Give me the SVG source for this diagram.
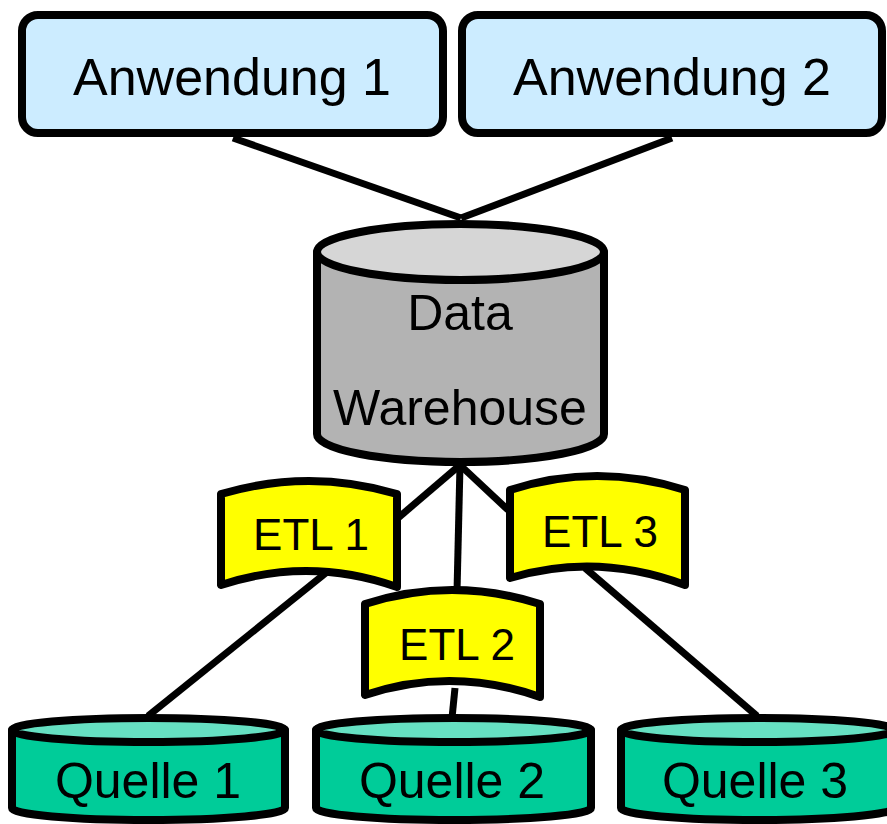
<svg xmlns="http://www.w3.org/2000/svg" width="887" height="824" viewBox="0 0 887 824">
<style>
.ln{stroke:#000;stroke-width:7;fill:none;stroke-linecap:butt}
.sh{stroke:#000;stroke-width:8;stroke-linejoin:round}
.t{font-family:"Liberation Sans",Arial,sans-serif;fill:#000;text-anchor:middle}
.app{fill:#CCECFF}
.dws{fill:#B3B3B3}
.dwt{fill:#D6D6D6}
.etl{fill:#FFFF00}
.qs{fill:#00CC99}
.qt{fill:#66E0C2}
</style>
<g id="connectors">
<line class="ln" x1="233" y1="138" x2="461" y2="218"/>
<line class="ln" x1="672" y1="138" x2="461" y2="218"/>
<line class="ln" x1="460" y1="465" x2="398" y2="518"/>
<line class="ln" x1="460" y1="465" x2="457" y2="592"/>
<line class="ln" x1="460" y1="465" x2="508" y2="510"/>
<line class="ln" x1="327" y1="572" x2="148" y2="716"/>
<line class="ln" x1="455" y1="688" x2="452" y2="718"/>
<line class="ln" x1="585" y1="568" x2="757" y2="716"/>
</g>
<g id="anwendung1">
<rect class="sh app" x="22" y="15" width="421" height="118" rx="16"/>
<text class="t" x="232" y="95" font-size="52">Anwendung 1</text>
</g>
<g id="anwendung2">
<rect class="sh app" x="462" y="15" width="420" height="118" rx="16"/>
<text class="t" x="672" y="95" font-size="52">Anwendung 2</text>
</g>
<g id="datawarehouse">
<path class="sh dws" d="M317,252 L317,434 A143.5,28 0 0 0 604,434 L604,252 Z"/>
<ellipse class="sh dwt" cx="460.5" cy="252" rx="143.5" ry="28"/>
<text class="t" x="460" y="330" font-size="50">Data</text>
<text class="t" x="460" y="425" font-size="50">Warehouse</text>
</g>
<g id="etl1">
<path class="sh etl" d="M221,494 Q309,468 397,494 L397,587 Q309,556 221,585 Z"/>
<text class="t" x="311" y="550" font-size="44">ETL 1</text>
</g>
<g id="etl3">
<path class="sh etl" d="M510,490 Q597,462 685,490 L685,585 Q597,552 510,578 Z"/>
<text class="t" x="600" y="547" font-size="44">ETL 3</text>
</g>
<g id="etl2">
<path class="sh etl" d="M365,604 Q452,576 540,604 L540,697 Q452,666 365,695 Z"/>
<text class="t" x="457" y="660" font-size="44">ETL 2</text>
</g>
<g id="quelle1">
<path class="sh qs" d="M12,730 L12,808 A136.5,12 0 0 0 285,808 L285,730 Z"/>
<ellipse class="sh qt" cx="148.5" cy="730" rx="136.5" ry="12"/>
<text class="t" x="148" y="798" font-size="50">Quelle 1</text>
</g>
<g id="quelle2">
<path class="sh qs" d="M316,730 L316,808 A137.5,12 0 0 0 591,808 L591,730 Z"/>
<ellipse class="sh qt" cx="453.5" cy="730" rx="137.5" ry="12"/>
<text class="t" x="452" y="798" font-size="50">Quelle 2</text>
</g>
<g id="quelle3">
<path class="sh qs" d="M621,730 L621,808 A136.5,12 0 0 0 894,808 L894,730 Z"/>
<ellipse class="sh qt" cx="757.5" cy="730" rx="136.5" ry="12"/>
<text class="t" x="755" y="798" font-size="50">Quelle 3</text>
</g>
</svg>
